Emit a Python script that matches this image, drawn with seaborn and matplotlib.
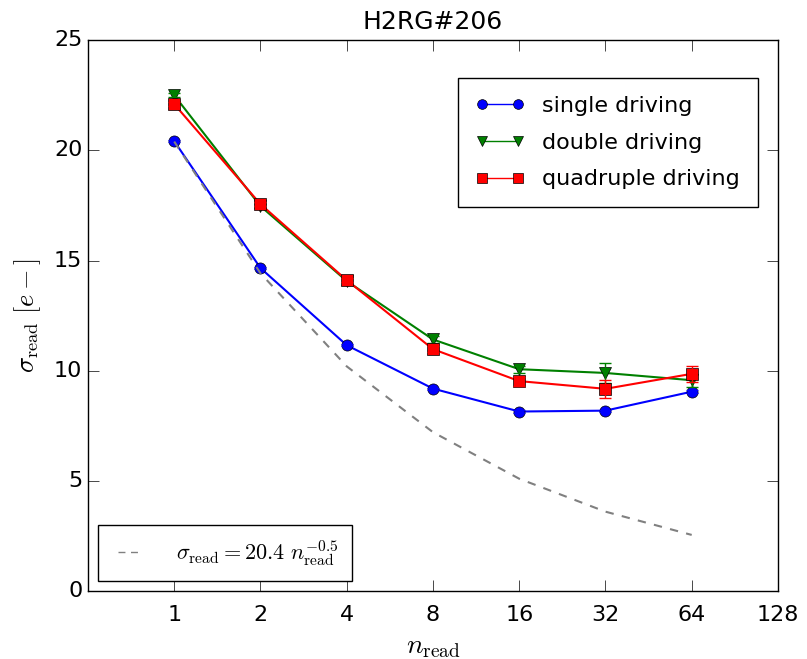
import numpy as np
import pandas as pd
import matplotlib
matplotlib.use("Agg")
import matplotlib.pyplot as plt
import seaborn as sns
from matplotlib.lines import Line2D

plt.style.use("classic")
plt.rcParams["figure.facecolor"] = "white"
plt.rcParams["savefig.facecolor"] = "white"
plt.rcParams["mathtext.fontset"] = "cm"
plt.rcParams["font.family"] = ["DejaVu Sans"]

n_read = [1, 2, 4, 8, 16, 32, 64]
single = [20.42, 14.66, 11.16, 9.19, 8.15, 8.19, 9.05]
double = [22.5, 17.47, 14.07, 11.42, 10.07, 9.9, 9.57]
quadruple = [22.1, 17.56, 14.11, 10.98, 9.53, 9.18, 9.86]
single_err = [0.05, 0.05, 0.05, 0.05, 0.05, 0.05, 0.08]
double_err = [0.1, 0.1, 0.2, 0.15, 0.15, 0.45, 0.3]
quadruple_err = [0.1, 0.1, 0.1, 0.15, 0.2, 0.4, 0.36]
xtick_vals = [1, 2, 4, 8, 16, 32, 64, 128]
xtick_labels = ["1", "2", "4", "8", "16", "32", "64", "128"]
fit_coef = 20.4
fit_exp = -0.5

fig = plt.figure(figsize=(8.07, 6.59), dpi=100)
ax = fig.add_axes([0.109, 0.103, 0.855, 0.836])

series = [
    ("single driving", single, single_err, "blue", "o"),
    ("double driving", double, double_err, "green", "v"),
    ("quadruple driving", quadruple, quadruple_err, "red", "s"),
]

handles = []
for label, vals, err, color, marker in series:
    df = pd.DataFrame({"n": n_read, "sigma": vals})
    sns.lineplot(data=df, x="n", y="sigma", ax=ax, color=color, marker=marker,
                 markersize=8, markeredgecolor="black", markeredgewidth=0.5,
                 linewidth=1.5, legend=False)
    ax.errorbar(n_read, vals, yerr=err, fmt="none", ecolor=color, capsize=4,
                elinewidth=1, capthick=1)
    handles.append(Line2D([], [], color=color, marker=marker, markersize=7,
                          markeredgecolor="black", markeredgewidth=0.5,
                          linewidth=1, label=label))

fit_vals = [fit_coef * n ** fit_exp for n in n_read]
dfit = pd.DataFrame({"n": n_read, "sigma": fit_vals})
sns.lineplot(data=dfit, x="n", y="sigma", ax=ax, color="gray", linestyle="--",
             linewidth=1.5, legend=False)
fit_handle = Line2D([], [], color="gray", linestyle=(0, (5, 4)), linewidth=1,
                    label=r"$\sigma_{\rm read} = 20.4\ n_{\rm read}^{-0.5}$")

ax.set_xscale("log", base=2)
ax.set_xlim(0.5, 128)
ax.set_ylim(0, 25)
ax.set_xticks(xtick_vals)
ax.set_xticklabels(xtick_labels)
ax.xaxis.set_minor_locator(matplotlib.ticker.NullLocator())
ax.set_yticks([0, 5, 10, 15, 20, 25])
ax.tick_params(labelsize=16, direction="in", top=True, right=True, length=8)
ax.tick_params(axis="x", pad=10)

ax.set_xlabel(r"$n_{\rm read}$", fontsize=20)
ax.set_ylabel(r"$\sigma_{\rm read}\ [e-]$", fontsize=19, labelpad=8)
ax.set_title("H2RG#206", fontsize=18, pad=8)

leg1 = ax.legend(handles=handles, loc="upper right", fontsize=16, numpoints=2,
                 bbox_to_anchor=(0.971, 0.931), borderaxespad=0,
                 frameon=True, fancybox=False,
                 handlelength=2.2, labelspacing=0.75, borderpad=0.8)
ax.add_artist(leg1)
ax.legend(handles=[fit_handle], loc="lower left", fontsize=16, numpoints=2,
          frameon=True, fancybox=False, bbox_to_anchor=(0.0145, 0.018),
          borderaxespad=0, handlelength=1.7, handletextpad=1.2, borderpad=0.6)

fig.savefig("out.png", dpi=100)
